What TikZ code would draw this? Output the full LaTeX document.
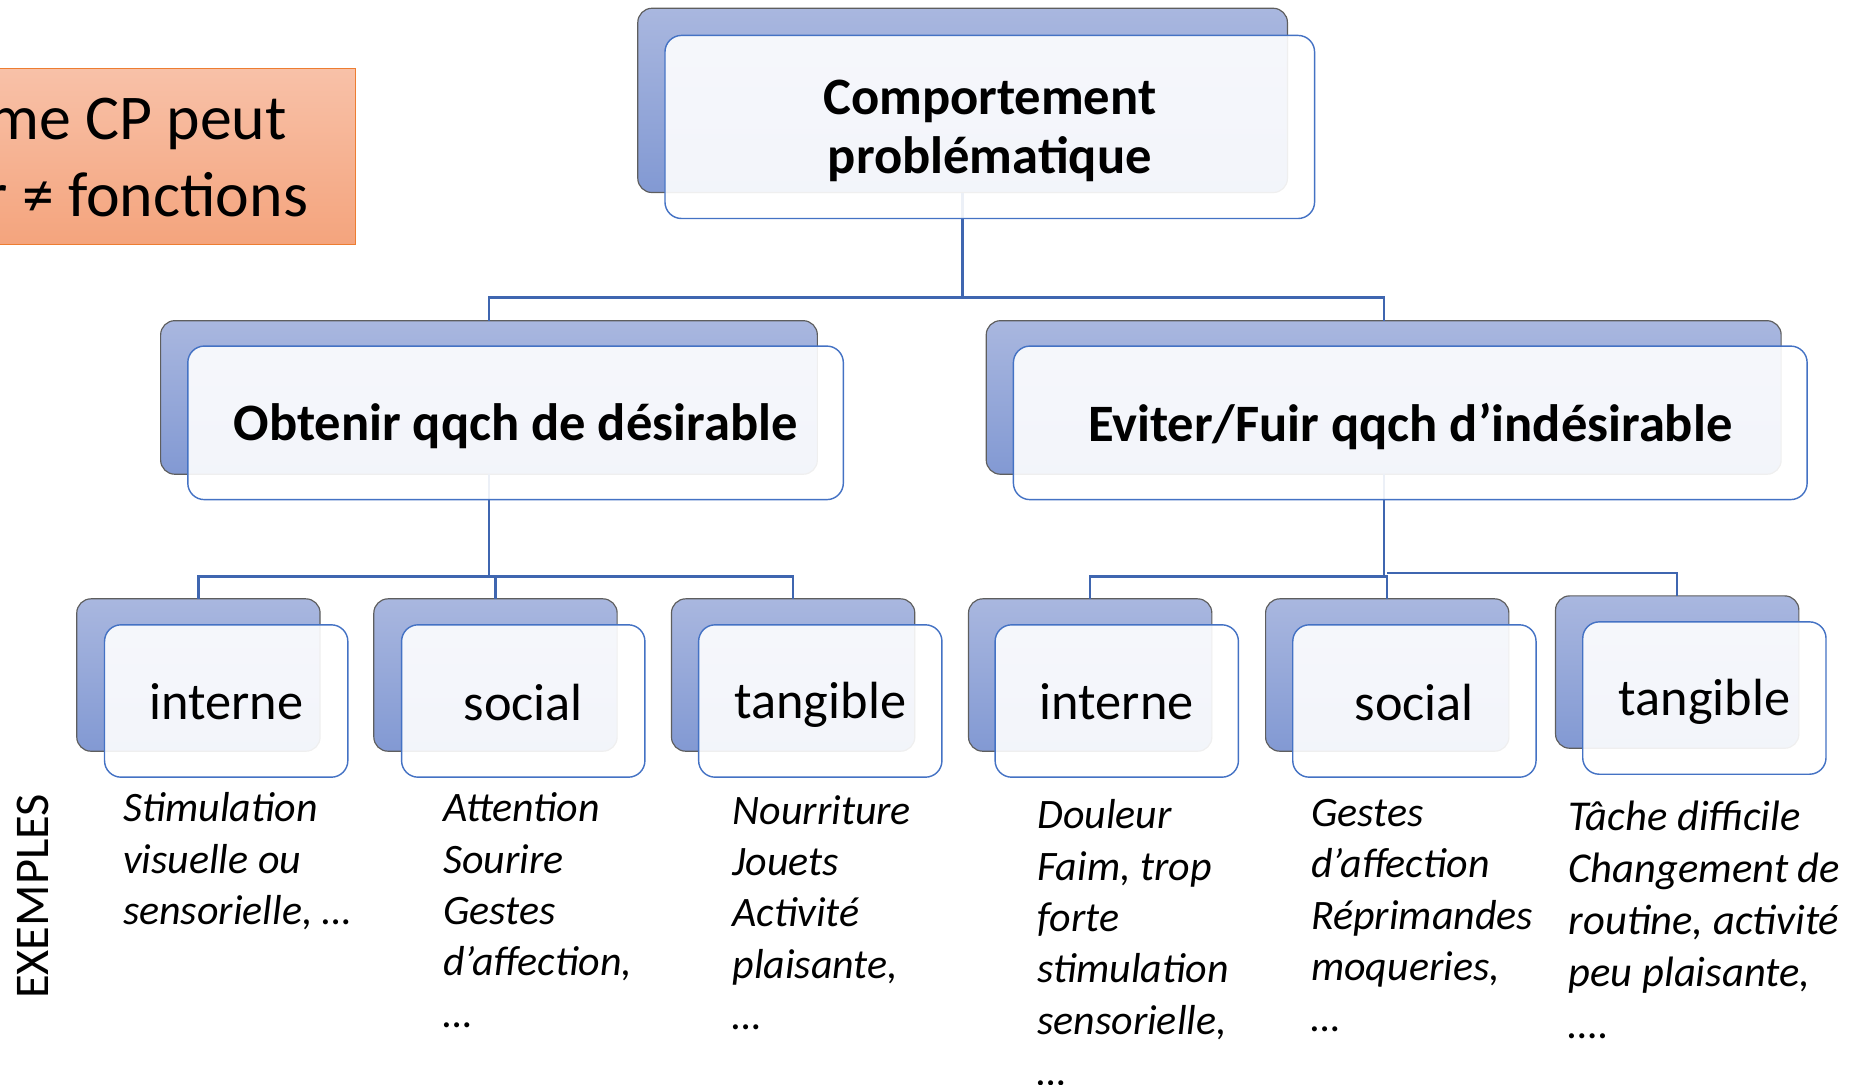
\documentclass[tikz,border=0pt]{standalone}
\usepackage{fontspec}
\setmainfont{Carlito}
\definecolor{backtop}{HTML}{A9B7DF}
\definecolor{backbot}{HTML}{8299D3}
\definecolor{backline}{HTML}{5E5E5E}
\definecolor{frontline}{HTML}{4472C4}
\definecolor{connc}{HTML}{3F66B0}
\definecolor{orgtop}{HTML}{F8C1A8}
\definecolor{orgbot}{HTML}{F4A47D}
\definecolor{orgline}{HTML}{ED7D31}
\begin{document}
\begin{tikzpicture}[x=1pt,y=-1pt,
  backbox/.style={draw=backline, line width=1pt, rounded corners=12pt, top color=backtop, bottom color=backbot, inner sep=0pt, outer sep=0pt},
  frontbox/.style={draw=frontline, line width=1.2pt, rounded corners=14pt, fill=white, fill opacity=0.9, inner sep=0pt, outer sep=0pt},
  topsize/.style={minimum width=550pt, minimum height=156pt},
  midsize/.style={minimum height=130pt},
  smallsize/.style={minimum width=206pt, minimum height=129pt},
  headfont/.style={inner sep=0pt, align=center, font=\bfseries\fontsize{44.5}{50}\selectfont},
  leaffont/.style={inner sep=0pt, font=\fontsize{44.3}{50}\selectfont},
  conn/.style={draw=connc, line width=2pt},
  extext/.style={anchor=north west, align=left, inner sep=0pt, font=\itshape\fontsize{35.5}{43.5}\selectfont},
  notetext/.style={anchor=base east, inner sep=0pt, font=\fontsize{54}{65}\selectfont}
]
\useasboundingbox (0,0) rectangle (1568,918);

% orange note box (cut by the left edge)
\node[draw=orgline, line width=1pt, top color=orgtop, bottom color=orgbot, minimum width=501pt, minimum height=149pt, inner sep=0pt] (note) at (50.5,132.5) {};
\node[notetext] (note1) at (243,118) {me CP peut};
\node[notetext] (note2) at (261,183) {r ≠ fonctions};

% back boxes
\node[backbox, topsize] (t0b) at (815,85) {};
\node[backbox, midsize, minimum width=556pt] (l1b) at (414,336.5) {};
\node[backbox, midsize, minimum width=673pt] (r1b) at (1171.5,336.5) {};
\node[backbox, smallsize] (c1b) at (168,571.5) {};
\node[backbox, smallsize] (c2b) at (419.5,571.5) {};
\node[backbox, smallsize] (c3b) at (671.5,571.5) {};
\node[backbox, smallsize] (c4b) at (923,571.5) {};
\node[backbox, smallsize] (c5b) at (1174.5,571.5) {};
\node[backbox, smallsize] (c6b) at (1420,569) {};

% connectors
\coordinate (bus0) at (815,252);
\coordinate (busL) at (414,488);
\coordinate (busR) at (1171.5,488);
\coordinate (busR2) at (1174.5,485);
\draw[conn] (t0b.south) -- (t0b.south |- bus0) -| (l1b.north);
\draw[conn] (t0b.south |- bus0) -| (r1b.north);
\draw[conn] (l1b.south) -- (busL) -| (c1b.north);
\draw[conn] (busL) -| (c2b.north);
\draw[conn] (busL) -| (c3b.north);
\draw[conn] (r1b.south) -- (busR) -| (c4b.north);
\draw[conn] (busR) -| (c5b.north);
\draw[conn] (busR2) -| (c6b.north);

% front boxes
\node[frontbox, minimum width=550pt, minimum height=155pt] (t0) at (838,107.5) {};
\node[frontbox, midsize, minimum width=555pt] (l1) at (436.5,358) {};
\node[frontbox, midsize, minimum width=672pt] (r1) at (1194,358) {};
\node[frontbox, smallsize] (c1) at (191.5,593.5) {};
\node[frontbox, smallsize] (c2) at (443,593.5) {};
\node[frontbox, smallsize] (c3) at (694.5,593.5) {};
\node[frontbox, smallsize] (c4) at (945.5,593.5) {};
\node[frontbox, smallsize] (c5) at (1197.5,593.5) {};
\node[frontbox, smallsize] (c6) at (1443,591) {};

% box texts
\node[headfont] (t0t) at ([yshift=-3.5pt]t0.center) {Comportement\\problématique};
\node[headfont] (l1t) at ([yshift=-3pt]l1.center) {Obtenir qqch de désirable};
\node[headfont] (r1t) at ([yshift=-3pt]r1.center) {Eviter/Fuir qqch d’indésirable};
\node[leaffont] (c1t) at ([yshift=-1pt]c1.center) {interne};
\node[leaffont] (c2t) at ([yshift=-1pt]c2.center) {social};
\node[leaffont] (c3t) at ([yshift=-3pt]c3.center) {tangible};
\node[leaffont] (c4t) at ([yshift=-1pt]c4.center) {interne};
\node[leaffont] (c5t) at ([yshift=-1pt]c5.center) {social};
\node[leaffont] (c6t) at ([yshift=-3pt]c6.center) {tangible};

% examples
\node[rotate=90, inner sep=0pt, font=\fontsize{41}{46}\selectfont] (ex) at (28,759) {EXEMPLES};
\node[extext] (e1) at (104,665) {\strut Stimulation\\visuelle ou\\sensorielle, …};
\node[extext] (e2) at (375,665) {\strut Attention\\Sourire\\Gestes\\d’affection,\\…};
\node[extext] (e3) at (620,667) {\strut Nourriture\\Jouets\\Activité\\plaisante,\\…};
\node[extext] (e4) at (878,671) {\strut Douleur\\Faim, trop\\forte\\stimulation\\sensorielle,\\…};
\node[extext] (e5) at (1110,669) {\strut Gestes\\d’affection\\Réprimandes\\moqueries,\\…};
\node[extext, font=\itshape\fontsize{36}{44}\selectfont] (e6) at (1328,672) {\strut Tâche difficile\\Changement de\\routine, activité\\peu plaisante,\\….};
\end{tikzpicture}
\end{document}
